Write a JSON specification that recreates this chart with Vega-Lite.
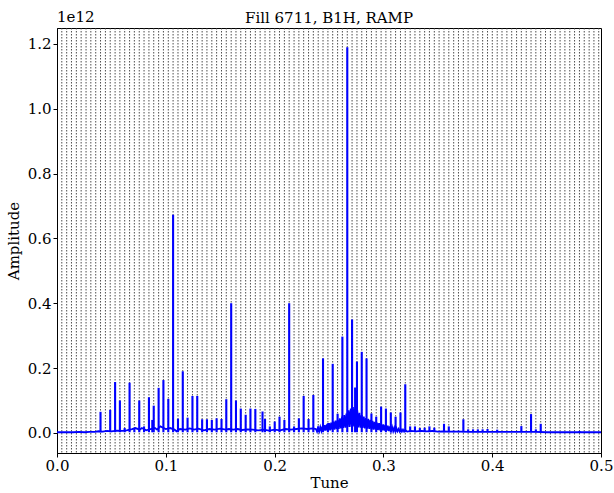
{
  "$schema": "https://vega.github.io/schema/vega-lite/v6.json",
  "width": 544,
  "height": 425,
  "padding": {"left": 6, "top": 10, "right": 5, "bottom": 0},
  "background": "white",
  "config": {
    "font": "DejaVu Serif",
    "view": {"stroke": "black", "strokeWidth": 1},
    "axis": {"labelFont": "DejaVu Serif", "titleFont": "DejaVu Serif", "labelFontSize": 15, "titleFontSize": 15, "titleFontWeight": "normal", "labelColor": "black", "titleColor": "black", "tickColor": "black", "domainColor": "black", "grid": false, "tickSize": 4}
  },
  "title": {"text": "Fill 6711, B1H, RAMP", "font": "DejaVu Serif", "fontSize": 15, "fontWeight": "normal", "color": "black", "offset": -16},
  "datasets": {
    "harmonics": [
      {"tune": 0.0044}, {"tune": 0.0089}, {"tune": 0.0133}, {"tune": 0.0178}, {"tune": 0.0222}, {"tune": 0.0267}, {"tune": 0.0311}, {"tune": 0.0356}, {"tune": 0.0400}, {"tune": 0.0445},
      {"tune": 0.0489}, {"tune": 0.0534}, {"tune": 0.0578}, {"tune": 0.0622}, {"tune": 0.0667}, {"tune": 0.0711}, {"tune": 0.0756}, {"tune": 0.0800}, {"tune": 0.0845}, {"tune": 0.0889},
      {"tune": 0.0934}, {"tune": 0.0978}, {"tune": 0.1023}, {"tune": 0.1067}, {"tune": 0.1112}, {"tune": 0.1156}, {"tune": 0.1200}, {"tune": 0.1245}, {"tune": 0.1289}, {"tune": 0.1334},
      {"tune": 0.1378}, {"tune": 0.1423}, {"tune": 0.1467}, {"tune": 0.1512}, {"tune": 0.1556}, {"tune": 0.1601}, {"tune": 0.1645}, {"tune": 0.1689}, {"tune": 0.1734}, {"tune": 0.1778},
      {"tune": 0.1823}, {"tune": 0.1867}, {"tune": 0.1912}, {"tune": 0.1956}, {"tune": 0.2001}, {"tune": 0.2045}, {"tune": 0.2090}, {"tune": 0.2134}, {"tune": 0.2179}, {"tune": 0.2223},
      {"tune": 0.2267}, {"tune": 0.2312}, {"tune": 0.2356}, {"tune": 0.2401}, {"tune": 0.2445}, {"tune": 0.2490}, {"tune": 0.2534}, {"tune": 0.2579}, {"tune": 0.2623}, {"tune": 0.2668},
      {"tune": 0.2712}, {"tune": 0.2757}, {"tune": 0.2801}, {"tune": 0.2845}, {"tune": 0.2890}, {"tune": 0.2934}, {"tune": 0.2979}, {"tune": 0.3023}, {"tune": 0.3068}, {"tune": 0.3112},
      {"tune": 0.3157}, {"tune": 0.3201}, {"tune": 0.3246}, {"tune": 0.3290}, {"tune": 0.3335}, {"tune": 0.3379}, {"tune": 0.3423}, {"tune": 0.3468}, {"tune": 0.3512}, {"tune": 0.3557},
      {"tune": 0.3601}, {"tune": 0.3646}, {"tune": 0.3690}, {"tune": 0.3735}, {"tune": 0.3779}, {"tune": 0.3824}, {"tune": 0.3868}, {"tune": 0.3912}, {"tune": 0.3957}, {"tune": 0.4001},
      {"tune": 0.4046}, {"tune": 0.4090}, {"tune": 0.4135}, {"tune": 0.4179}, {"tune": 0.4224}, {"tune": 0.4268}, {"tune": 0.4313}, {"tune": 0.4357}, {"tune": 0.4401}, {"tune": 0.4446},
      {"tune": 0.4490}, {"tune": 0.4535}, {"tune": 0.4579}, {"tune": 0.4624}, {"tune": 0.4668}, {"tune": 0.4713}, {"tune": 0.4757}, {"tune": 0.4802}, {"tune": 0.4846}, {"tune": 0.4891},
      {"tune": 0.4935}, {"tune": 0.4979}
    ],
    "baseline": [
      {"tune": 0.0, "amp": 0.002}, {"tune": 0.005, "amp": 0.002}, {"tune": 0.01, "amp": 0.002}, {"tune": 0.015, "amp": 0.002}, {"tune": 0.02, "amp": 0.003}, {"tune": 0.025, "amp": 0.002}, {"tune": 0.03, "amp": 0.003}, {"tune": 0.035, "amp": 0.003},
      {"tune": 0.038, "amp": 0.005}, {"tune": 0.042, "amp": 0.004}, {"tune": 0.046, "amp": 0.006}, {"tune": 0.05, "amp": 0.005}, {"tune": 0.055, "amp": 0.007}, {"tune": 0.06, "amp": 0.006}, {"tune": 0.064, "amp": 0.008}, {"tune": 0.069, "amp": 0.012},
      {"tune": 0.072, "amp": 0.015}, {"tune": 0.076, "amp": 0.01}, {"tune": 0.078, "amp": 0.015}, {"tune": 0.082, "amp": 0.008}, {"tune": 0.086, "amp": 0.012}, {"tune": 0.09, "amp": 0.015}, {"tune": 0.092, "amp": 0.01}, {"tune": 0.095, "amp": 0.02},
      {"tune": 0.1, "amp": 0.012}, {"tune": 0.104, "amp": 0.015}, {"tune": 0.108, "amp": 0.01}, {"tune": 0.11, "amp": 0.005}, {"tune": 0.113, "amp": 0.012}, {"tune": 0.118, "amp": 0.01}, {"tune": 0.122, "amp": 0.014}, {"tune": 0.126, "amp": 0.01},
      {"tune": 0.13, "amp": 0.013}, {"tune": 0.135, "amp": 0.008}, {"tune": 0.14, "amp": 0.012}, {"tune": 0.145, "amp": 0.01}, {"tune": 0.15, "amp": 0.013}, {"tune": 0.155, "amp": 0.01}, {"tune": 0.158, "amp": 0.012}, {"tune": 0.162, "amp": 0.01},
      {"tune": 0.166, "amp": 0.012}, {"tune": 0.17, "amp": 0.009}, {"tune": 0.175, "amp": 0.011}, {"tune": 0.18, "amp": 0.01}, {"tune": 0.185, "amp": 0.008}, {"tune": 0.19, "amp": 0.01}, {"tune": 0.195, "amp": 0.007}, {"tune": 0.2, "amp": 0.01},
      {"tune": 0.205, "amp": 0.008}, {"tune": 0.21, "amp": 0.012}, {"tune": 0.215, "amp": 0.01}, {"tune": 0.22, "amp": 0.012}, {"tune": 0.225, "amp": 0.014}, {"tune": 0.23, "amp": 0.012}, {"tune": 0.235, "amp": 0.014},
      {"tune": 0.238, "amp": 0.012}, {"tune": 0.239, "amp": 0.004}, {"tune": 0.240, "amp": 0.015}, {"tune": 0.241, "amp": 0.005}, {"tune": 0.242, "amp": 0.018}, {"tune": 0.243, "amp": 0.006}, {"tune": 0.244, "amp": 0.02}, {"tune": 0.245, "amp": 0.006},
      {"tune": 0.246, "amp": 0.024}, {"tune": 0.247, "amp": 0.007}, {"tune": 0.248, "amp": 0.026}, {"tune": 0.249, "amp": 0.008}, {"tune": 0.250, "amp": 0.03}, {"tune": 0.251, "amp": 0.008}, {"tune": 0.252, "amp": 0.032}, {"tune": 0.253, "amp": 0.01},
      {"tune": 0.254, "amp": 0.035}, {"tune": 0.255, "amp": 0.01}, {"tune": 0.256, "amp": 0.038}, {"tune": 0.257, "amp": 0.012}, {"tune": 0.258, "amp": 0.04}, {"tune": 0.259, "amp": 0.012}, {"tune": 0.260, "amp": 0.045}, {"tune": 0.261, "amp": 0.014},
      {"tune": 0.262, "amp": 0.05}, {"tune": 0.263, "amp": 0.015}, {"tune": 0.264, "amp": 0.055}, {"tune": 0.265, "amp": 0.016}, {"tune": 0.266, "amp": 0.06}, {"tune": 0.267, "amp": 0.018}, {"tune": 0.268, "amp": 0.07}, {"tune": 0.269, "amp": 0.018},
      {"tune": 0.270, "amp": 0.075}, {"tune": 0.271, "amp": 0.02}, {"tune": 0.272, "amp": 0.08}, {"tune": 0.273, "amp": 0.02}, {"tune": 0.274, "amp": 0.075}, {"tune": 0.275, "amp": 0.018}, {"tune": 0.276, "amp": 0.07}, {"tune": 0.277, "amp": 0.017},
      {"tune": 0.278, "amp": 0.062}, {"tune": 0.279, "amp": 0.016}, {"tune": 0.280, "amp": 0.055}, {"tune": 0.281, "amp": 0.015}, {"tune": 0.282, "amp": 0.05}, {"tune": 0.283, "amp": 0.014}, {"tune": 0.284, "amp": 0.046}, {"tune": 0.285, "amp": 0.013},
      {"tune": 0.286, "amp": 0.043}, {"tune": 0.287, "amp": 0.012}, {"tune": 0.288, "amp": 0.04}, {"tune": 0.289, "amp": 0.011}, {"tune": 0.290, "amp": 0.037}, {"tune": 0.291, "amp": 0.01}, {"tune": 0.292, "amp": 0.034}, {"tune": 0.293, "amp": 0.01},
      {"tune": 0.294, "amp": 0.032}, {"tune": 0.295, "amp": 0.009}, {"tune": 0.296, "amp": 0.03}, {"tune": 0.297, "amp": 0.008}, {"tune": 0.298, "amp": 0.028}, {"tune": 0.299, "amp": 0.008}, {"tune": 0.300, "amp": 0.026}, {"tune": 0.301, "amp": 0.007},
      {"tune": 0.302, "amp": 0.024}, {"tune": 0.303, "amp": 0.007}, {"tune": 0.304, "amp": 0.022}, {"tune": 0.305, "amp": 0.006}, {"tune": 0.306, "amp": 0.02}, {"tune": 0.307, "amp": 0.006}, {"tune": 0.308, "amp": 0.018}, {"tune": 0.309, "amp": 0.005},
      {"tune": 0.310, "amp": 0.016}, {"tune": 0.311, "amp": 0.005}, {"tune": 0.312, "amp": 0.014}, {"tune": 0.313, "amp": 0.005}, {"tune": 0.314, "amp": 0.012}, {"tune": 0.315, "amp": 0.004}, {"tune": 0.316, "amp": 0.011}, {"tune": 0.317, "amp": 0.004},
      {"tune": 0.318, "amp": 0.01}, {"tune": 0.319, "amp": 0.004}, {"tune": 0.320, "amp": 0.009}, {"tune": 0.322, "amp": 0.004},
      {"tune": 0.325, "amp": 0.006}, {"tune": 0.33, "amp": 0.005}, {"tune": 0.335, "amp": 0.006}, {"tune": 0.34, "amp": 0.005}, {"tune": 0.345, "amp": 0.006}, {"tune": 0.35, "amp": 0.004}, {"tune": 0.355, "amp": 0.005}, {"tune": 0.36, "amp": 0.004},
      {"tune": 0.37, "amp": 0.004}, {"tune": 0.38, "amp": 0.003}, {"tune": 0.39, "amp": 0.003}, {"tune": 0.4, "amp": 0.003}, {"tune": 0.41, "amp": 0.003}, {"tune": 0.42, "amp": 0.003}, {"tune": 0.43, "amp": 0.003}, {"tune": 0.44, "amp": 0.003},
      {"tune": 0.45, "amp": 0.002}, {"tune": 0.46, "amp": 0.002}, {"tune": 0.47, "amp": 0.002}, {"tune": 0.48, "amp": 0.002}, {"tune": 0.49, "amp": 0.002}, {"tune": 0.5, "amp": 0.002}
    ],
    "peaks": [
      {"tune": 0.0400, "amp": 0.065}, {"tune": 0.0489, "amp": 0.071}, {"tune": 0.0534, "amp": 0.157}, {"tune": 0.0578, "amp": 0.10}, {"tune": 0.0622, "amp": 0.015}, {"tune": 0.0667, "amp": 0.155},
      {"tune": 0.0711, "amp": 0.012}, {"tune": 0.0756, "amp": 0.10}, {"tune": 0.0800, "amp": 0.02}, {"tune": 0.0845, "amp": 0.11}, {"tune": 0.0876, "amp": 0.04}, {"tune": 0.0889, "amp": 0.084},
      {"tune": 0.0934, "amp": 0.139}, {"tune": 0.0978, "amp": 0.163}, {"tune": 0.1023, "amp": 0.105}, {"tune": 0.1067, "amp": 0.673}, {"tune": 0.1112, "amp": 0.044}, {"tune": 0.1156, "amp": 0.19},
      {"tune": 0.1200, "amp": 0.047}, {"tune": 0.1245, "amp": 0.114}, {"tune": 0.1289, "amp": 0.114}, {"tune": 0.1334, "amp": 0.042}, {"tune": 0.1378, "amp": 0.042}, {"tune": 0.1423, "amp": 0.04},
      {"tune": 0.1467, "amp": 0.045}, {"tune": 0.1512, "amp": 0.043}, {"tune": 0.1556, "amp": 0.104}, {"tune": 0.1601, "amp": 0.40}, {"tune": 0.1645, "amp": 0.10}, {"tune": 0.1689, "amp": 0.075},
      {"tune": 0.1734, "amp": 0.056}, {"tune": 0.1778, "amp": 0.075}, {"tune": 0.1823, "amp": 0.074}, {"tune": 0.1889, "amp": 0.066}, {"tune": 0.1912, "amp": 0.043}, {"tune": 0.1956, "amp": 0.02},
      {"tune": 0.2001, "amp": 0.035}, {"tune": 0.2045, "amp": 0.05}, {"tune": 0.2090, "amp": 0.04}, {"tune": 0.2134, "amp": 0.40}, {"tune": 0.2179, "amp": 0.02}, {"tune": 0.2223, "amp": 0.045},
      {"tune": 0.2267, "amp": 0.114}, {"tune": 0.2312, "amp": 0.043}, {"tune": 0.2356, "amp": 0.117}, {"tune": 0.2401, "amp": 0.02}, {"tune": 0.2445, "amp": 0.23}, {"tune": 0.2490, "amp": 0.03},
      {"tune": 0.2534, "amp": 0.213}, {"tune": 0.2579, "amp": 0.059}, {"tune": 0.2623, "amp": 0.297}, {"tune": 0.2668, "amp": 1.19}, {"tune": 0.2712, "amp": 0.35}, {"tune": 0.2740, "amp": 0.14},
      {"tune": 0.2757, "amp": 0.22}, {"tune": 0.2801, "amp": 0.25}, {"tune": 0.2845, "amp": 0.23}, {"tune": 0.2890, "amp": 0.06}, {"tune": 0.2934, "amp": 0.05}, {"tune": 0.2979, "amp": 0.081},
      {"tune": 0.3023, "amp": 0.075}, {"tune": 0.3068, "amp": 0.063}, {"tune": 0.3112, "amp": 0.05}, {"tune": 0.3157, "amp": 0.063}, {"tune": 0.3201, "amp": 0.15}, {"tune": 0.3246, "amp": 0.02},
      {"tune": 0.3290, "amp": 0.02}, {"tune": 0.3335, "amp": 0.015}, {"tune": 0.3379, "amp": 0.016}, {"tune": 0.3423, "amp": 0.02}, {"tune": 0.3468, "amp": 0.016}, {"tune": 0.3557, "amp": 0.028},
      {"tune": 0.3601, "amp": 0.02}, {"tune": 0.3646, "amp": 0.007}, {"tune": 0.3690, "amp": 0.007}, {"tune": 0.3735, "amp": 0.042}, {"tune": 0.3779, "amp": 0.011}, {"tune": 0.3824, "amp": 0.011},
      {"tune": 0.3868, "amp": 0.011}, {"tune": 0.3912, "amp": 0.011}, {"tune": 0.3957, "amp": 0.012}, {"tune": 0.4046, "amp": 0.01}, {"tune": 0.4268, "amp": 0.021}, {"tune": 0.4357, "amp": 0.058},
      {"tune": 0.4401, "amp": 0.011}, {"tune": 0.4446, "amp": 0.028}, {"tune": 0.4802, "amp": 0.006}
    ],
    "offset": [{"tune": 0, "amp": 1.249, "label": "1e12"}]
  },
  "layer": [
    {
      "data": {"name": "harmonics"},
      "mark": {"type": "rule", "stroke": "#3a3a3a", "strokeWidth": 0.9, "strokeDash": [1.5, 1.5]},
      "encoding": {
        "x": {"field": "tune", "type": "quantitative", "scale": {"domain": [0, 0.5], "nice": false, "zero": false},
              "axis": {"title": "Tune", "values": [0, 0.1, 0.2, 0.3, 0.4, 0.5], "format": ".1f", "labelFlush": false, "labelPadding": 1, "titlePadding": 2}}
      }
    },
    {
      "data": {"name": "baseline"},
      "mark": {"type": "line", "color": "#0000ff", "strokeWidth": 1.8, "clip": true},
      "encoding": {
        "x": {"field": "tune", "type": "quantitative", "scale": {"domain": [0, 0.5], "nice": false, "zero": false},
              "axis": {"title": "Tune", "values": [0, 0.1, 0.2, 0.3, 0.4, 0.5], "format": ".1f", "labelFlush": false, "labelPadding": 1, "titlePadding": 2}},
        "y": {"field": "amp", "type": "quantitative", "scale": {"domain": [-0.062, 1.249], "nice": false, "zero": false},
              "axis": {"title": "Amplitude", "values": [0, 0.2, 0.4, 0.6, 0.8, 1.0, 1.2], "format": ".1f", "titlePadding": 6}}
      }
    },
    {
      "data": {"name": "peaks"},
      "mark": {"type": "rule", "color": "#0000ff", "strokeWidth": 2.1},
      "encoding": {
        "x": {"field": "tune", "type": "quantitative",
              "axis": {"title": "Tune", "values": [0, 0.1, 0.2, 0.3, 0.4, 0.5], "format": ".1f", "labelFlush": false, "labelPadding": 1, "titlePadding": 2}},
        "y": {"field": "amp", "type": "quantitative",
              "axis": {"title": "Amplitude", "values": [0, 0.2, 0.4, 0.6, 0.8, 1.0, 1.2], "format": ".1f", "titlePadding": 6}},
        "y2": {"datum": 0.002}
      }
    },
    {
      "data": {"name": "offset"},
      "mark": {"type": "text", "align": "left", "baseline": "bottom", "dy": -3, "fontSize": 15, "font": "DejaVu Serif", "color": "black"},
      "encoding": {
        "x": {"field": "tune", "type": "quantitative",
              "axis": {"title": "Tune", "values": [0, 0.1, 0.2, 0.3, 0.4, 0.5], "format": ".1f", "labelFlush": false, "labelPadding": 1, "titlePadding": 2}},
        "y": {"field": "amp", "type": "quantitative",
              "axis": {"title": "Amplitude", "values": [0, 0.2, 0.4, 0.6, 0.8, 1.0, 1.2], "format": ".1f", "titlePadding": 6}},
        "text": {"field": "label"}
      }
    }
  ]
}
